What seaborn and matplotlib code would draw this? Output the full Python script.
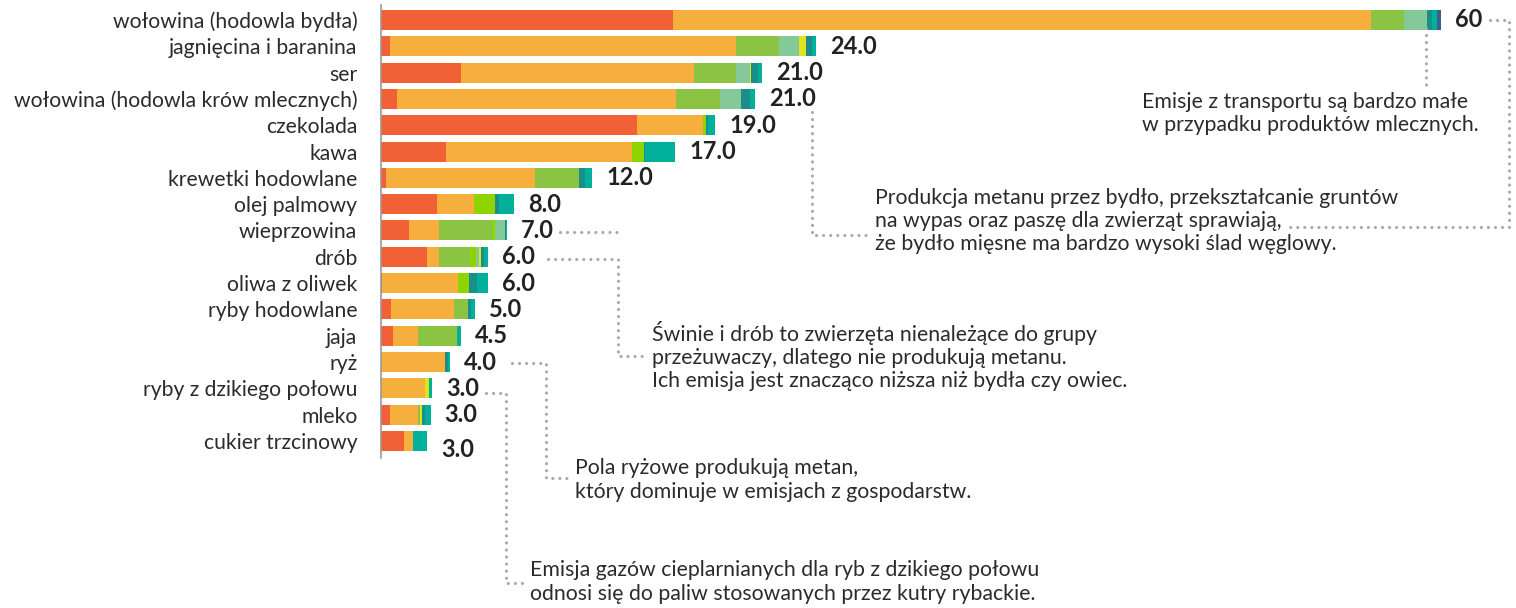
import numpy as np
import pandas as pd
import matplotlib
matplotlib.use("Agg")
import matplotlib.pyplot as plt
import seaborn as sns

# --- data (kg CO2eq per kg of product, split by supply-chain stage) ---
foods = [
    "wołowina (hodowla bydła)", "jagnięcina i baranina", "ser",
    "wołowina (hodowla krów mlecznych)", "czekolada", "kawa",
    "krewetki hodowlane", "olej palmowy", "wieprzowina", "drób",
    "oliwa z oliwek", "ryby hodowlane", "jaja", "ryż",
    "ryby z dzikiego połowu", "mleko", "cukier trzcinowy",
]
value_labels = ["60", "24.0", "21.0", "21.0", "19.0", "17.0", "12.0", "8.0",
                "7.0", "6.0", "6.0", "5.0", "4.5", "4.0", "3.0", "3.0", "3.0"]

land_use = [16.5, 0.5, 4.5, 0.9, 14.5, 3.7, 0.3, 3.15, 1.6, 2.6, 0.05, 0.55, 0.7, 0.0, 0.0, 0.5, 1.3]
farm = [39.5, 19.6, 13.2, 15.8, 3.7, 10.5, 8.4, 2.1, 1.7, 0.7, 4.3, 3.6, 1.4, 3.6, 2.5, 1.6, 0.5]
animal_feed = [1.85, 2.4, 2.4, 2.5, 0.0, 0.0, 2.5, 0.0, 3.0, 1.75, 0.0, 0.75, 2.2, 0.0, 0.0, 0.1, 0.0]
processing_plant = [0.0, 0.0, 0.0, 0.0, 0.2, 0.65, 0.0, 1.2, 0.15, 0.35, 0.6, 0.0, 0.0, 0.0, 0.0, 0.0, 0.0]
processing_animal = [1.3, 1.15, 0.75, 1.15, 0.0, 0.0, 0.0, 0.0, 0.55, 0.15, 0.0, 0.0, 0.0, 0.0, 0.0, 0.0, 0.0]
retail = [0.0, 0.4, 0.1, 0.0, 0.0, 0.0, 0.0, 0.0, 0.0, 0.1, 0.0, 0.0, 0.0, 0.0, 0.2, 0.1, 0.0]
transport = [0.3, 0.3, 0.4, 0.5, 0.1, 0.1, 0.35, 0.25, 0.05, 0.2, 0.5, 0.2, 0.0, 0.2, 0.0, 0.2, 0.0]
packaging = [0.3, 0.25, 0.2, 0.3, 0.4, 1.7, 0.4, 0.85, 0.05, 0.2, 0.6, 0.2, 0.25, 0.1, 0.2, 0.3, 0.8]
losses = [0.2, 0.0, 0.0, 0.0, 0.0, 0.0, 0.0, 0.0, 0.0, 0.0, 0.0, 0.0, 0.0, 0.0, 0.0, 0.0, 0.0]

layers = [land_use, farm, animal_feed, processing_plant, processing_animal,
          retail, transport, packaging, losses]
layer_colors = ["#f26135", "#f6ae3d", "#8bc443", "#8dd400", "#85c99b",
                "#dfe31a", "#1b8e8c", "#00b09b", "#3d5f8c"]

TEXT = "#2b2b2b"
DOTS = "#aaaaaa"

sns.set_style("white")
plt.rcParams["font.family"] = ["Lato", "DejaVu Sans"]

fig = plt.figure(figsize=(15.16, 6.08), dpi=100)
ax = fig.add_axes([381 / 1516, 0, 1 - 381 / 1516, 1])

# stacked bars: draw cumulative totals from the outermost layer inwards
cum = np.cumsum(np.array(layers), axis=0)
for k in range(len(layers) - 1, -1, -1):
    df = pd.DataFrame({"food": foods, "value": cum[k]})
    sns.barplot(data=df, x="value", y="food", orient="h", color=layer_colors[k],
                saturation=1, width=0.76, linewidth=0, ax=ax)

totals = cum[-1]
for i, lab in enumerate(value_labels):
    # the last label sits a little lower in the original
    shift = -6 if i == len(value_labels) - 1 else 0
    ax.annotate(lab, (totals[i], i), xytext=(10, shift), textcoords="offset points",
                va="center", ha="left", fontsize=17, fontweight="bold", color="#222222")

# px -> data helpers for the annotation layout
def dx(px):
    return (px - 381) / 17.68


def dy(py):
    return (py - 20) / 26.31


ax.set_xlim(0, dx(1516))
ax.set_ylim(dy(608), dy(0))

sns.despine(ax=ax, top=True, right=True, bottom=True, left=False)
ax.spines["left"].set_color("#999999")
ax.spines["left"].set_linewidth(1.2)
ax.spines["left"].set_bounds(dy(5), dy(458))
ax.set_xticks([])
ax.set_xlabel("")
ax.set_ylabel("")
ax.tick_params(axis="y", length=0, pad=17, labelsize=15.2, labelcolor=TEXT)


def dotted(xs, ys):
    ax.plot([dx(x) for x in xs], [dy(y) for y in ys], color=DOTS, lw=2.3,
            linestyle=(0, (0.01, 2.2)), dash_capstyle="round", zorder=1)


dotted([1426, 1426], [28, 90])
dotted([1490, 1509, 1509, 1285], [20, 20, 227, 227])
dotted([812, 812, 866], [112, 235, 235])
dotted([560, 618], [232, 232])
dotted([548, 618, 618, 645], [259, 259, 356, 356])
dotted([512, 546, 546, 570], [363, 363, 478, 478])
dotted([486, 506, 506, 526], [393, 393, 583, 583])

notes = [
    (1142, 113.5, "Emisje z transportu są bardzo małe\nw przypadku produktów mlecznych."),
    (875, 221, "Produkcja metanu przez bydło, przekształcanie gruntów\n"
               "na wypas oraz paszę dla zwierząt sprawiają,\n"
               "że bydło mięsne ma bardzo wysoki ślad węglowy."),
    (652, 356, "Świnie i drób to zwierzęta nienależące do grupy\n"
               "przeżuwaczy, dlatego nie produkują metanu.\n"
               "Ich emisja jest znacząco niższa niż bydła czy owiec."),
    (575, 480, "Pola ryżowe produkują metan,\nktóry dominuje w emisjach z gospodarstw."),
    (530, 582, "Emisja gazów cieplarnianych dla ryb z dzikiego połowu\n"
               "odnosi się do paliw stosowanych przez kutry rybackie."),
]
for px, py, txt in notes:
    ax.text(dx(px), dy(py), txt, ha="left", va="center", fontsize=15.3,
            color=TEXT, linespacing=1.2)

fig.savefig("out.png", dpi=100)
